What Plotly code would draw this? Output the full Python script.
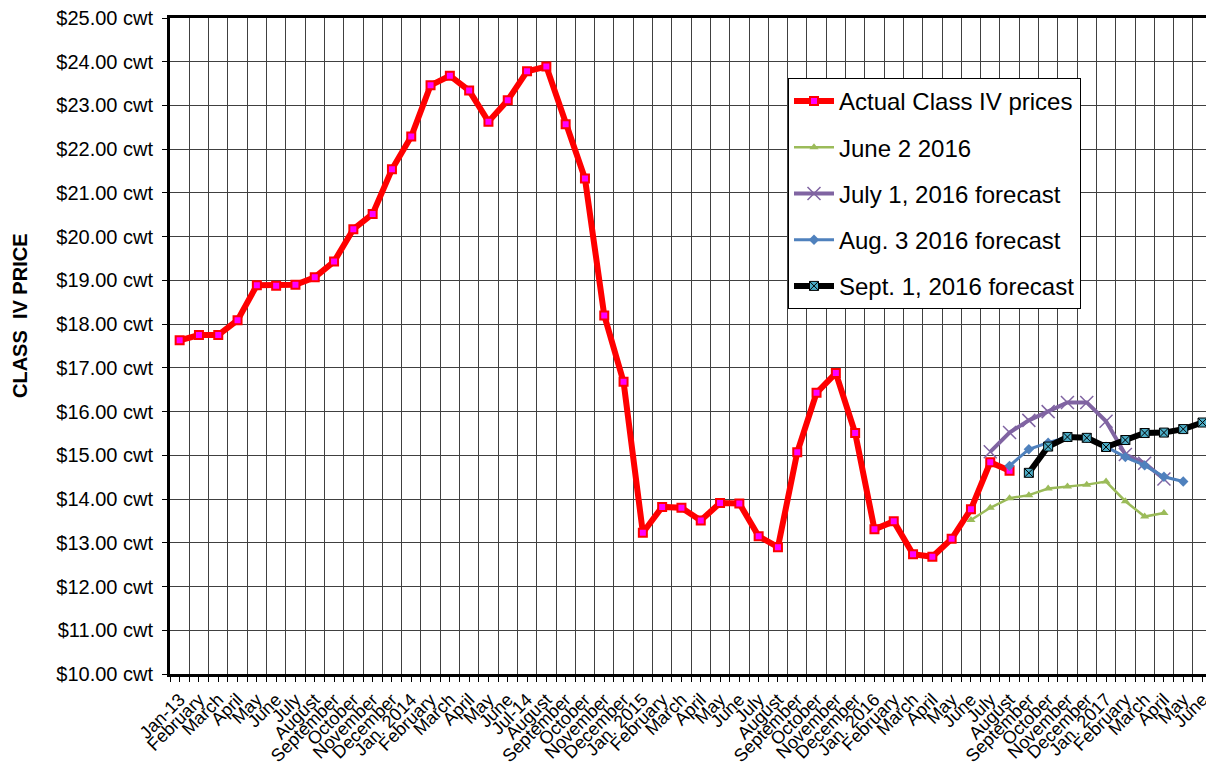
import plotly.graph_objects as go

months = ["February", "March", "April", "May", "June", "July", "August",
          "September", "October", "November", "December"]
categories = (["Jan-13"] + months +
              ["Jan. 2014", "February", "March", "April", "May", "June", "Jul-14",
               "August", "September", "October", "November", "December"] +
              ["Jan. 2015"] + months +
              ["Jan. 2016"] + months +
              ["Jan. 2017", "February", "March", "April", "May", "June"])

actual = [17.63, 17.75, 17.75, 18.09, 18.89, 18.88, 18.90, 19.07, 19.43, 20.17, 20.52, 21.54,
          22.29, 23.46, 23.68, 23.34, 22.63, 23.12, 23.78, 23.89, 22.57, 21.33, 18.20, 16.68,
          13.23, 13.82, 13.80, 13.51, 13.91, 13.90, 13.15, 12.90, 15.07, 16.43, 16.88, 15.51,
          13.31, 13.49, 12.74, 12.68, 13.09, 13.77, 14.84, 14.65]

june2_start = "June 2016"
june2 = [13.52, 13.80, 14.02, 14.09, 14.24, 14.29, 14.33, 14.40, 13.95, 13.60, 13.68]
july1_start = "July 2016"
july1 = [15.08, 15.52, 15.80, 16.00, 16.21, 16.21, 15.78, 15.02, 14.82, 14.46]
aug3_start = "August 2016"
aug3 = [14.76, 15.14, 15.29, 15.42, 15.40, 15.20, 14.96, 14.77, 14.51, 14.40]
sept1_start = "September 2016"
sept1 = [14.60, 15.20, 15.42, 15.40, 15.19, 15.35, 15.51, 15.52, 15.60, 15.75]

start_index = {"June 2016": 41, "July 2016": 42, "August 2016": 43, "September 2016": 44}

FONT = "Liberation Sans, Arial, sans-serif"


def xs(start, vals):
    s = start_index[start]
    return list(range(s, s + len(vals)))


fig = go.Figure()
fig.add_trace(go.Scatter(
    x=list(range(len(actual))), y=actual, name="Actual Class IV prices",
    mode="lines+markers", legendgroup="a",
    line=dict(color="#FF0000", width=6),
    marker=dict(symbol="square", size=8, color="#FF00FF", line=dict(color="#FF0000", width=2))))
fig.add_trace(go.Scatter(
    x=xs(june2_start, june2), y=june2, name="June 2 2016",
    mode="lines+markers", legendgroup="b",
    line=dict(color="#9BBB59", width=2.5),
    marker=dict(symbol="triangle-up", size=8, color="#9BBB59")))
fig.add_trace(go.Scatter(
    x=xs(july1_start, july1), y=july1, name="July 1, 2016 forecast",
    mode="lines+markers", legendgroup="c",
    line=dict(color="#8064A2", width=4),
    marker=dict(symbol="x-thin", size=13, color="#8064A2", line=dict(color="#8064A2", width=1.5))))
fig.add_trace(go.Scatter(
    x=xs(aug3_start, aug3), y=aug3, name="Aug. 3 2016 forecast",
    mode="lines+markers", legendgroup="d",
    line=dict(color="#4F81BD", width=3),
    marker=dict(symbol="diamond", size=8, color="#4F81BD")))
fig.add_trace(go.Scatter(
    x=xs(sept1_start, sept1), y=sept1, name="Sept. 1, 2016 forecast",
    mode="lines+markers", legendgroup="e",
    line=dict(color="#000000", width=6),
    marker=dict(symbol="square-x", size=9, color="#4BACC6", line=dict(color="#000000", width=1))))

W, H = 1206, 768
ML, MT = 170, 18
PLOT_BOTTOM = 674
MB = H - PLOT_BOTTOM
cat_w = 19.3
plot_w = W - ML
plot_h = H - MT - MB
x_max = -0.5 + plot_w / cat_w

fig.update_layout(
    width=W, height=H,
    margin=dict(l=ML, r=0, t=MT, b=MB, autoexpand=False),
    paper_bgcolor="white", plot_bgcolor="white",
    font=dict(family=FONT, color="black"),
    showlegend=True,
    legend=dict(
        x=(788 - ML) / plot_w, y=1 - (78 - MT) / plot_h,
        xanchor="left", yanchor="top",
        bgcolor="white", bordercolor="black", borderwidth=1,
        font=dict(family=FONT, size=24, color="black"),
        tracegroupgap=12, itemwidth=40, traceorder="grouped"),
    xaxis=dict(
        range=[-0.5, x_max], automargin=False,
        tickmode="array", tickvals=list(range(len(categories))), ticktext=categories,
        tickangle=-45, tickfont=dict(family=FONT, size=18, color="black"),
        ticklabeloverflow="allow",
        ticks="outside", ticklen=5, tickcolor="black", tickwidth=1,
        showgrid=False, zeroline=False,
        showline=True, linecolor="black", linewidth=3, mirror=True,
        minor=dict(tickmode="linear", tick0=-0.5, dtick=1, showgrid=True,
                   gridcolor="#404040", gridwidth=1,
                   ticks="outside", ticklen=5, tickcolor="black"),
    ),
    yaxis=dict(
        range=[10, 25], dtick=1, tick0=10, automargin=False,
        tickprefix="$", tickformat=".2f", ticksuffix=" cwt",
        tickfont=dict(family=FONT, size=20, color="black"),
        ticklabeloverflow="allow",
        ticks="outside", ticklen=5, tickcolor="black", tickwidth=1,
        ticklabelstandoff=5,
        showgrid=True, gridcolor="#404040", gridwidth=1,
        zeroline=False,
        showline=True, linecolor="black", linewidth=3,
    ),
    annotations=[dict(
        text="<b>CLASS\u00a0\u00a0IV PRICE</b>", textangle=-90,
        xref="paper", yref="paper",
        x=(20 - ML) / plot_w, y=1 - (316 - MT) / plot_h,
        xanchor="center", yanchor="middle", showarrow=False,
        font=dict(family=FONT, size=20, color="black"))],
)

fig.write_html(
    "out.html",
    config={"displayModeBar": False},
    post_script="document.body.style.margin='0';document.body.style.overflow='hidden';",
)
